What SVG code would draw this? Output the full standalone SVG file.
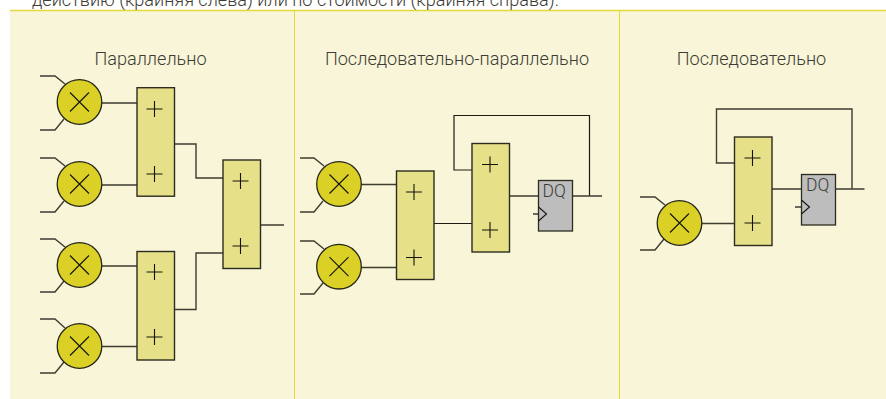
<svg xmlns="http://www.w3.org/2000/svg" width="886" height="399" viewBox="0 0 886 399">
<style>
.t{font-family:"Roboto","Liberation Sans",sans-serif;font-weight:300;font-size:18px;fill:#3c3c34}
.h{font-size:18.1px;text-anchor:middle}
.q{font-size:17.5px}
.w{fill:none;stroke:#3d3d30;stroke-width:1.4}
.o{fill:none;stroke:#1c1c14;stroke-width:1.2}
.m{fill:#dbd126;stroke:#26261a;stroke-width:1.3}
.a{fill:#e6e088;stroke:#2c2c20;stroke-width:1.4}
.d{fill:#bdbdbd;stroke:#2c2c20;stroke-width:1.3}
.s{fill:none;stroke:#14140c;stroke-width:1.1}
</style>
<defs>
<g id="mul"><circle r="22.3" class="m"/><path class="s" d="M-9.5-9.5L9.5 9.5M-9.5 9.5L9.5-9.5"/></g>
<g id="add"><rect width="37.5" height="108.5" class="a"/></g>
<path id="plus" class="s" d="M-8 0H8M0-8V8"/>
</defs>
<rect width="886" height="399" fill="#fff"/>
<rect x="10" y="10.500" width="876" height="388.500" fill="#f8f5d8"/>
<path d="M294.500 10.500V399M619.500 10.500V399" fill="none" stroke="#e0d83c" stroke-width="1"/>
<path d="M10 10.500H886" fill="none" stroke="#e2d93a" stroke-width="1.500"/>
<text class="t" x="32" y="6" textLength="527" lengthAdjust="spacingAndGlyphs">действию (крайняя слева) или по стоимости (крайняя справа).</text>
<text class="t h" x="150.500" y="65">Параллельно</text>
<text class="t h" x="457" y="65">Последовательно-параллельно</text>
<text class="t h" x="751.500" y="65">Последовательно</text>
<g id="connectors">
<path class="w" d="M40 76H55L65 84M40 130H55L64 119M40 158H55L65 166M40 212H55L64 201M40 239H55L65 247M40 292H55L64 281M40 319H55L65 328M40 373H55L64 362"/>
<path class="w" d="M102 103H137M102 185H137M102 266H137M102 346.500H137"/>
<path class="w" d="M174.500 144H196V178H223M174.500 309.500H196V253H223M260 225H284"/>
<path class="w" d="M300 158H314L324 166M300 212H314L323 201M300 241H314L324 249M300 294H314L323 283"/>
<path class="w" d="M361 184.500H396.500M361 267.500H396.500"/>
<path class="o" d="M433.500 223.500H472M472 170H454V115.500H589.500V196"/>
<path class="w" d="M509 196H538.500M572.500 196H602M533 214H538.500"/>
<path class="w" d="M640 197H655L665 205M640 250H655L664 239M702 223.500H734.500"/>
<path class="w" d="M734.500 163H716.500V109H852V189M772 189H801.500M835.500 189H864.500M795 207H801.500"/>
</g>
<g id="m1"><use href="#mul" x="79.500" y="102"/></g>
<g id="m2"><use href="#mul" x="79.500" y="184"/></g>
<g id="m3"><use href="#mul" x="79.500" y="265"/></g>
<g id="m4"><use href="#mul" x="79.500" y="346"/></g>
<g id="a1"><use href="#add" x="137" y="87.700"/><use href="#plus" x="154.500" y="109"/><use href="#plus" x="154.500" y="174"/></g>
<g id="a2"><use href="#add" x="223" y="160"/><use href="#plus" x="240.500" y="181"/><use href="#plus" x="240.500" y="246"/></g>
<g id="a3"><use href="#add" x="137" y="251.500"/><use href="#plus" x="154.500" y="272"/><use href="#plus" x="154.500" y="337"/></g>
<g id="m5"><use href="#mul" x="339" y="184"/></g>
<g id="m6"><use href="#mul" x="339" y="266.700"/></g>
<g id="a4"><use href="#add" x="396.500" y="171"/><use href="#plus" x="414" y="192"/><use href="#plus" x="414" y="257.500"/></g>
<g id="a5"><use href="#add" x="472" y="143.500"/><use href="#plus" x="490" y="164.500"/><use href="#plus" x="490" y="230"/></g>
<g id="dq1"><rect class="d" x="538.500" y="180.500" width="34" height="50.500"/><path class="s" d="M538.500 207L546.500 214L538.500 221"/><text class="t q" x="542.500" y="197">DQ</text></g>
<g id="m7"><use href="#mul" x="679.500" y="223"/></g>
<g id="a6"><use href="#add" x="734.500" y="137"/><use href="#plus" x="752.500" y="158"/><use href="#plus" x="752.500" y="223"/></g>
<g id="dq2"><rect class="d" x="801.500" y="174.500" width="34" height="50.500"/><path class="s" d="M801.500 200L809.500 207L801.500 214"/><text class="t q" x="806" y="190.500">DQ</text></g>
</svg>
